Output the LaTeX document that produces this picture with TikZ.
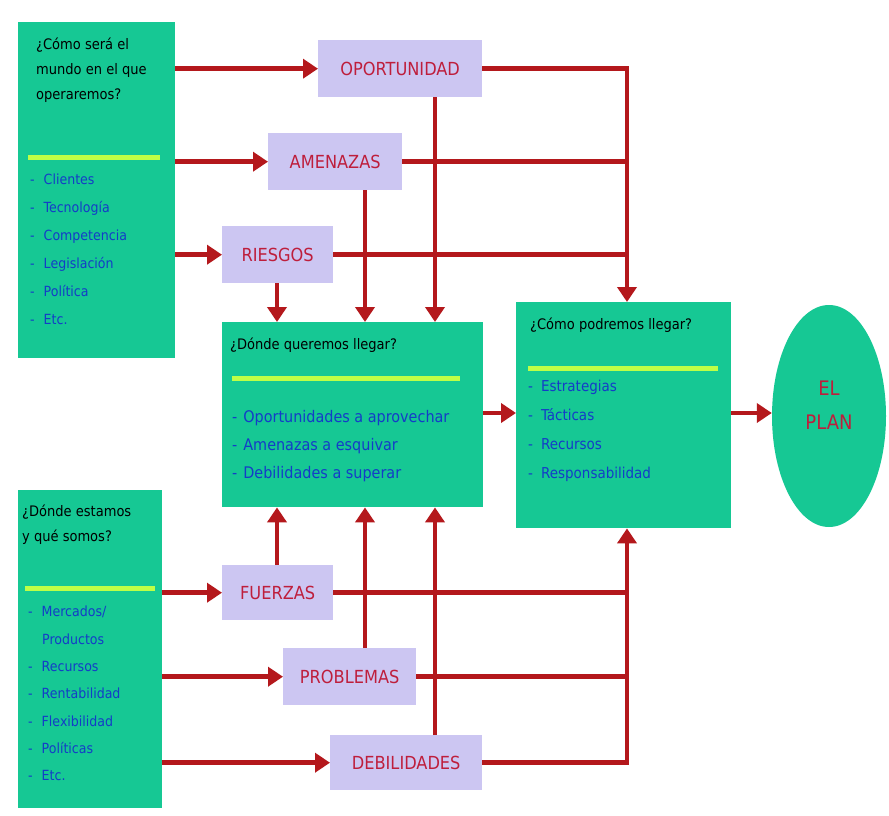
\documentclass[tikz,border=0pt]{standalone}
\usepackage{fontspec}
\setmainfont{DejaVu Sans Condensed}
\usetikzlibrary{arrows.meta,calc,shapes.geometric}
\definecolor{boxgreen}{RGB}{22,200,148}
\definecolor{lav}{RGB}{204,198,242}
\definecolor{arr}{RGB}{180,24,28}
\definecolor{labred}{RGB}{190,30,60}
\definecolor{itemblue}{RGB}{20,60,200}
\definecolor{sep}{RGB}{190,255,70}
\begin{document}
\begin{tikzpicture}[x=1pt,y=-1pt,
  bigbox/.style={fill=boxgreen,draw=none,anchor=north west,inner sep=0pt},
  lbox/.style={fill=lav,draw=none,anchor=north west,inner sep=0pt,text=labred,font=\fontsize{18}{20}\selectfont},
  ttl/.style={anchor=north west,align=left,inner sep=0pt,text=black,font=\fontsize{14.5}{25}\selectfont},
  itm/.style={anchor=north west,align=left,inner sep=0pt,text=itemblue,font=\fontsize{14}{28}\selectfont},
  sepline/.style={draw=sep,line width=5pt},
  conn/.style={draw=arr,line width=4.5pt},
  tip/.style={-{Triangle[length=15pt,width=19pt]}}]
\useasboundingbox (0,0) rectangle (889,816);
\fill[white] (0,0) rectangle (889,816);
% big boxes
\node[bigbox,minimum width=157pt,minimum height=336pt] (tl) at (18,22) {};
\node[bigbox,minimum width=144pt,minimum height=318pt] (bl) at (18,490) {};
\node[bigbox,minimum width=261pt,minimum height=185pt] (mid) at (222,322) {};
\node[bigbox,minimum width=215pt,minimum height=226pt] (rb) at (516,302) {};
\node[fill=boxgreen,draw=none,ellipse,minimum width=114pt,minimum height=222pt,inner sep=0pt] (plan) at (829,416) {};
\node[text=labred,align=center,font=\fontsize{20}{34}\selectfont] (plantxt) at (829,405) {EL\\PLAN};
% titles and items
\node[ttl] (tlt) at (36,38) {¿Cómo será el\\mundo en el que\\operaremos?};
\draw[sepline] (28,157) -- (160,157);
\node[itm] (tli) at (30,174) {-\hspace{9pt}Clientes\\-\hspace{9pt}Tecnología\\-\hspace{9pt}Competencia\\-\hspace{9pt}Legislación\\-\hspace{9pt}Política\\-\hspace{9pt}Etc.};
\node[ttl] (blt) at (22,505) {¿Dónde estamos\\y qué somos?};
\draw[sepline] (25,588) -- (155,588);
\node[itm,font=\fontsize{14}{27.3}\selectfont] (bli) at (28,606) {-\hspace{9pt}Mercados/\\\hspace{14pt}Productos\\-\hspace{9pt}Recursos\\-\hspace{9pt}Rentabilidad\\-\hspace{9pt}Flexibilidad\\-\hspace{9pt}Políticas\\-\hspace{9pt}Etc.};
\node[ttl] (midt) at (230,338) {¿Dónde queremos llegar?};
\draw[sepline] (232,378) -- (460,378);
\node[itm,font=\fontsize{16}{28}\selectfont] (midi) at (232,410) {-\hspace{6pt}Oportunidades a aprovechar\\-\hspace{6pt}Amenazas a esquivar\\-\hspace{6pt}Debilidades a superar};
\node[ttl] (rbt) at (530,318) {¿Cómo podremos llegar?};
\draw[sepline] (528,368) -- (718,368);
\node[itm,font=\fontsize{15}{29}\selectfont] (rbi) at (528,380) {-\hspace{8pt}Estrategias\\-\hspace{8pt}Tácticas\\-\hspace{8pt}Recursos\\-\hspace{8pt}Responsabilidad};
% label boxes
\node[lbox,minimum width=164pt,minimum height=57pt] (opp) at (318,40) {OPORTUNIDAD};
\node[lbox,minimum width=134pt,minimum height=57pt] (ame) at (268,133) {AMENAZAS};
\node[lbox,minimum width=111pt,minimum height=57pt] (rie) at (222,226) {RIESGOS};
\node[lbox,minimum width=111pt,minimum height=55pt] (fue) at (222,565) {FUERZAS};
\node[lbox,minimum width=133pt,minimum height=57pt] (pro) at (283,648) {PROBLEMAS};
\node[lbox,minimum width=152pt,minimum height=55pt] (deb) at (330,735) {DEBILIDADES};
% junction coordinates
\coordinate (jx) at (627,0);
\coordinate (v1) at (277,0);
\coordinate (v2) at (365,0);
\coordinate (v3) at (435,0);
% connectors: top
\draw[conn,tip] (tl.east |- opp.west) -- (opp.west);
\draw[conn,tip] (tl.east |- ame.west) -- (ame.west);
\draw[conn,tip] (tl.east |- rie.west) -- (rie.west);
\draw[conn] (ame.east) -- (ame.east -| jx);
\draw[conn] (rie.east) -- (rie.east -| jx);
\draw[conn,tip] (opp.east) -- (opp.east -| jx) -- (jx |- rb.north);
\draw[conn,tip] (v3 |- opp.south) -- (v3 |- mid.north);
\draw[conn,tip] (v2 |- ame.south) -- (v2 |- mid.north);
\draw[conn,tip] (v1 |- rie.south) -- (v1 |- mid.north);
% connectors: bottom
\draw[conn,tip] (bl.east |- fue.west) -- (fue.west);
\draw[conn,tip] (bl.east |- pro.west) -- (pro.west);
\draw[conn,tip] (bl.east |- deb.west) -- (deb.west);
\draw[conn] (fue.east) -- (fue.east -| jx);
\draw[conn] (pro.east) -- (pro.east -| jx);
\draw[conn,tip] (deb.east) -- (deb.east -| jx) -- (jx |- rb.south);
\draw[conn,tip] (v1 |- fue.north) -- (v1 |- mid.south);
\draw[conn,tip] (v2 |- pro.north) -- (v2 |- mid.south);
\draw[conn,tip] (v3 |- deb.north) -- (v3 |- mid.south);
% middle to right to plan
\draw[conn,tip] (mid.east |- 0,413) -- (rb.west |- 0,413);
\draw[conn,tip] (rb.east |- 0,413) -- (plan.west |- 0,413);
\end{tikzpicture}
\end{document}
